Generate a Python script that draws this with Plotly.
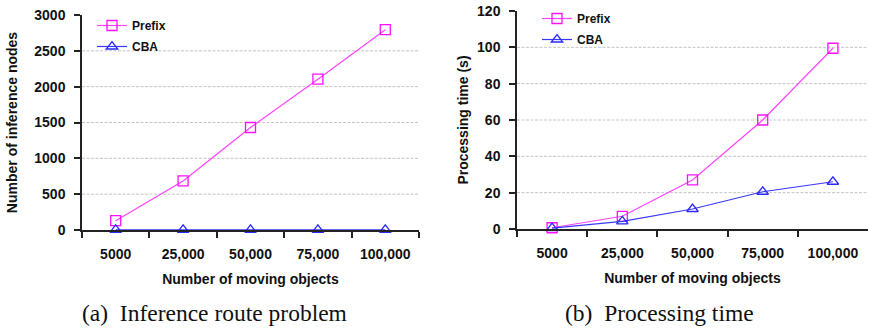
import plotly.graph_objects as go

categories = ["5000", "25,000", "50,000", "75,000", "100,000"]
nodes_prefix = [130, 685, 1430, 2105, 2795]
nodes_cba = [2, 2, 2, 2, 2]
time_prefix = [0.7, 7.0, 27.0, 60.0, 99.5]
time_cba = [0.5, 4.2, 11.0, 20.5, 26.0]
nodes_ticks = [0, 500, 1000, 1500, 2000, 2500, 3000]
time_ticks = [0, 20, 40, 60, 80, 100, 120]
series_names = ["Prefix", "CBA"]
captions = ["(a)\u2002Inference route problem", "(b)\u2002Processing time"]

PINK_L = "#ff44ff"
PINK_M = "#ff11ff"
BLUE_L = "#3838ff"
BLUE_M = "#2a2aff"
AXC = "#222222"
SANS = "Liberation Sans, Arial, sans-serif"
SERIF = "Liberation Serif, Times New Roman, serif"

fig = go.Figure()

def add_series(x, y, name, lcolor, mcolor, symbol, xa, ya, legend, size):
    fig.add_trace(go.Scatter(
        x=x, y=y, name=name, mode="lines+markers",
        line=dict(color=lcolor, width=1.2),
        marker=dict(symbol=symbol, size=size, color=mcolor, line=dict(width=1.3, color=mcolor)),
        xaxis=xa, yaxis=ya, legend=legend, legendgroup=legend + name, cliponaxis=False,
    ))

add_series(categories, nodes_prefix, series_names[0], PINK_L, PINK_M, "square-open", "x", "y", "legend", 10)
add_series(categories, nodes_cba, series_names[1], BLUE_L, BLUE_M, "triangle-up-open", "x", "y", "legend", 10)
add_series(categories, time_prefix, series_names[0], PINK_L, PINK_M, "square-open", "x2", "y2", "legend2", 10)
add_series(categories, time_cba, series_names[1], BLUE_L, BLUE_M, "triangle-up-open", "x2", "y2", "legend2", 10)

tickfont = dict(family=SANS, size=14, color="#111111", weight="bold")
titlefont = dict(family=SANS, size=14, color="#111111", weight="bold")
legfont = dict(family=SANS, size=12, color="#111111", weight="bold")

xcommon = dict(
    type="category", range=[-0.5, 4.5], showline=True, linecolor=AXC, linewidth=1.5,
    ticks="outside", tickson="boundaries", ticklen=6, tickwidth=1.5, tickcolor=AXC,
    showgrid=False, tickfont=tickfont, ticklabelstandoff=10, automargin=False,
    title=dict(text="Number of moving objects", font=titlefont, standoff=14),
    zeroline=False,
)
ycommon = dict(
    showline=True, linecolor=AXC, linewidth=1.5, ticks="outside", ticklen=6,
    tickwidth=1.5, tickcolor=AXC, showgrid=False, zeroline=False, tickfont=tickfont,
    ticklabelstandoff=6, automargin=False,
)

fig.update_layout(
    width=870, height=330, margin=dict(l=0, r=0, t=0, b=0, autoexpand=False),
    paper_bgcolor="white", plot_bgcolor="white",
    xaxis=dict(domain=[82/870, 419/870], anchor="y", **xcommon),
    xaxis2=dict(domain=[517/870, 868/870], anchor="y2", **xcommon),
    yaxis=dict(domain=[100/330, 315/330], anchor="x", range=[0, 3000], tickvals=nodes_ticks,
               title=dict(text="Number of inference nodes", font=titlefont, standoff=13),
               **ycommon),
    yaxis2=dict(domain=[101/330, 319/330], anchor="x2", range=[0, 120], tickvals=time_ticks,
                title=dict(text="Processing time (s)", font=titlefont, standoff=5),
                **ycommon),
    legend=dict(x=92/870, y=1 - 11/330, xanchor="left", yanchor="top", bgcolor="rgba(0,0,0,0)",
                font=legfont, tracegroupgap=2, itemwidth=30),
    legend2=dict(x=537/870, y=1 - 4/330, xanchor="left", yanchor="top", bgcolor="rgba(0,0,0,0)",
                 font=legfont, tracegroupgap=2, itemwidth=30),
    showlegend=True,
)

# dashed grid lines at interior tick values
for v in nodes_ticks[1:-1]:
    fig.add_shape(type="line", xref="x domain", yref="y", x0=0, x1=1, y0=v, y1=v,
                  line=dict(color="#c4c4c4", width=1, dash="3px,1.5px"), layer="below")
for v in time_ticks[1:-1]:
    fig.add_shape(type="line", xref="x2 domain", yref="y2", x0=0, x1=1, y0=v, y1=v,
                  line=dict(color="#c4c4c4", width=1, dash="3px,1.5px"), layer="below")

fig.add_annotation(text=captions[0], xref="paper", yref="paper", x=214/870, y=1 - 313/330,
                   xanchor="center", yanchor="middle", showarrow=False,
                   font=dict(family=SERIF, size=23.5, color="#111111"))
fig.add_annotation(text=captions[1], xref="paper", yref="paper", x=659/870, y=1 - 313/330,
                   xanchor="center", yanchor="middle", showarrow=False,
                   font=dict(family=SERIF, size=23.5, color="#111111"))

fig.write_html("out.html")
